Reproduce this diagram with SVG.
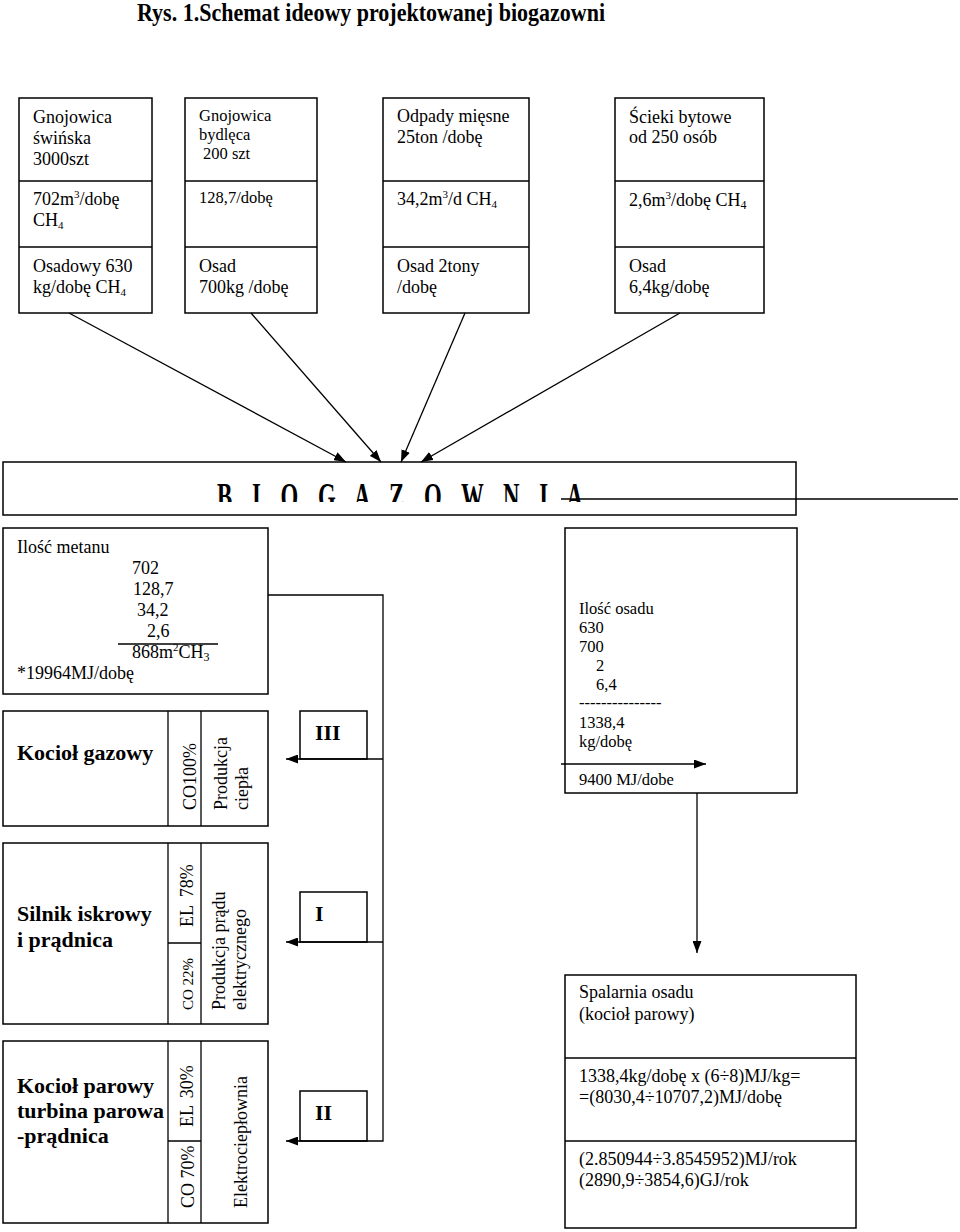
<svg xmlns="http://www.w3.org/2000/svg" width="960" height="1232" viewBox="0 0 960 1232">
<style>
svg { font-family: "Liberation Serif", "Times New Roman", serif; font-size: 18px; }
text { fill: #000; }
.s { font-size: 16.5px; }
.b { font-weight: bold; font-size: 22px; }
.box { fill: #fff; stroke: #000; stroke-width: 1.5; }
.ln { stroke: #000; stroke-width: 1.3; fill: none; }
</style>
<defs>
<marker id="ah" markerUnits="userSpaceOnUse" markerWidth="12" markerHeight="9" refX="12" refY="4.5" orient="auto">
<path d="M0,0 L12,4.5 L0,9 z" fill="#000"/>
</marker>
<clipPath id="bioclip"><rect x="0" y="470" width="800" height="32"/></clipPath>
</defs>
<rect width="960" height="1232" fill="#fff"/>

<text x="137" y="21" font-weight="bold" font-size="25" textLength="468" lengthAdjust="spacingAndGlyphs">Rys. 1.Schemat ideowy projektowanej biogazowni</text>

<g id="src1">
<rect class="box" x="19" y="98" width="133" height="215"/>
<line class="ln" x1="19" y1="181" x2="152" y2="181"/>
<line class="ln" x1="19" y1="247" x2="152" y2="247"/>
<text x="33" y="123">Gnojowica</text>
<text x="33" y="144">świńska</text>
<text x="33" y="165">3000szt</text>
<text x="33" y="205">702m<tspan font-size="11" dy="-7">3</tspan><tspan dy="7">/dobę</tspan></text>
<text x="33" y="226">CH<tspan font-size="11" dy="3">4</tspan></text>
<text x="33" y="272">Osadowy 630</text>
<text x="33" y="293">kg/dobę CH<tspan font-size="11" dy="3">4</tspan></text>
</g>

<g id="src2">
<rect class="box" x="185" y="98" width="132" height="215"/>
<line class="ln" x1="185" y1="181" x2="317" y2="181"/>
<line class="ln" x1="185" y1="247" x2="317" y2="247"/>
<text class="s" x="199" y="121">Gnojowica</text>
<text class="s" x="199" y="140">bydlęca</text>
<text class="s" x="203" y="159">200 szt</text>
<text class="s" x="199" y="203">128,7/dobę</text>
<text x="199" y="272">Osad</text>
<text x="199" y="293">700kg /dobę</text>
</g>

<g id="src3">
<rect class="box" x="383" y="98" width="146" height="215"/>
<line class="ln" x1="383" y1="181" x2="529" y2="181"/>
<line class="ln" x1="383" y1="247" x2="529" y2="247"/>
<text x="397" y="122">Odpady mięsne</text>
<text x="397" y="143">25ton /dobę</text>
<text x="397" y="205">34,2m<tspan font-size="11" dy="-7">3</tspan><tspan dy="7">/d CH</tspan><tspan font-size="11" dy="3">4</tspan></text>
<text x="397" y="272">Osad 2tony</text>
<text x="397" y="293">/dobę</text>
</g>

<g id="src4">
<rect class="box" x="615" y="98" width="149" height="215"/>
<line class="ln" x1="615" y1="181" x2="764" y2="181"/>
<line class="ln" x1="615" y1="247" x2="764" y2="247"/>
<text x="629" y="123">Ścieki bytowe</text>
<text x="629" y="143">od 250 osób</text>
<text x="629" y="206">2,6m<tspan font-size="11" dy="-7">3</tspan><tspan dy="7">/dobę CH</tspan><tspan font-size="12" dy="3">4</tspan></text>
<text x="629" y="272">Osad</text>
<text x="629" y="293">6,4kg/dobę</text>
</g>

<g id="biogazownia">
<rect class="box" x="3" y="462" width="793" height="53"/>
<g clip-path="url(#bioclip)">
<text transform="translate(217,509) scale(0.6,1)" font-weight="bold" font-size="38" textLength="610" lengthAdjust="spacing">B I O G A Z O W N I A</text>
</g>
</g>

<g id="metan">
<rect class="box" x="3" y="528" width="265" height="166"/>
<text x="17" y="553">Ilość metanu</text>
<text x="132" y="574">702</text>
<text x="133" y="595">128,7</text>
<text x="137" y="616">34,2</text>
<text x="147" y="637">2,6</text>
<line class="ln" x1="118" y1="644" x2="218" y2="644"/>
<text x="132" y="658">868m<tspan font-size="11" dy="-7">2</tspan><tspan dy="7">CH</tspan><tspan font-size="12" dy="3">3</tspan></text>
<text x="17" y="679">*19964MJ/dobę</text>
</g>

<g id="kociol-gazowy">
<rect class="box" x="3" y="711" width="265" height="115"/>
<line class="ln" x1="168" y1="711" x2="168" y2="826"/>
<line class="ln" x1="201" y1="711" x2="201" y2="826"/>
<text class="b" x="17" y="760">Kocioł gazowy</text>
<text transform="translate(196,810) rotate(-90)">CO100%</text>
<text transform="translate(227,810) rotate(-90)">Produkcja</text>
<text transform="translate(248,810) rotate(-90)">ciepła</text>
</g>

<g id="silnik">
<rect class="box" x="3" y="843" width="265" height="181"/>
<line class="ln" x1="168" y1="843" x2="168" y2="1024"/>
<line class="ln" x1="201" y1="843" x2="201" y2="1024"/>
<line class="ln" x1="168" y1="943" x2="201" y2="943"/>
<text class="b" x="17" y="921">Silnik iskrowy</text>
<text class="b" x="17" y="947">i prądnica</text>
<text transform="translate(193,927) rotate(-90)" word-spacing="4">EL 78%</text>
<text transform="translate(193,1010) rotate(-90)" font-size="15">CO 22%</text>
<text transform="translate(225,1010) rotate(-90)">Produkcja prądu</text>
<text transform="translate(246,1010) rotate(-90)">elektrycznego</text>
</g>

<g id="kociol-parowy">
<rect class="box" x="3" y="1041" width="265" height="182"/>
<line class="ln" x1="168" y1="1041" x2="168" y2="1223"/>
<line class="ln" x1="201" y1="1041" x2="201" y2="1223"/>
<line class="ln" x1="168" y1="1141" x2="201" y2="1141"/>
<text class="b" x="17" y="1093">Kocioł parowy</text>
<text class="b" x="17" y="1118">turbina parowa</text>
<text class="b" x="17" y="1143">-prądnica</text>
<text transform="translate(193,1127) rotate(-90)" word-spacing="3">EL 30%</text>
<text transform="translate(194,1208) rotate(-90)">CO 70%</text>
<text transform="translate(247,1208) rotate(-90)">Elektrociepłownia</text>
</g>

<g id="label-III">
<rect class="box" x="300" y="711" width="67" height="48"/>
<text class="b" x="315" y="740">III</text>
</g>
<g id="label-I">
<rect class="box" x="300" y="892" width="67" height="50"/>
<text class="b" x="315" y="921">I</text>
</g>
<g id="label-II">
<rect class="box" x="300" y="1091" width="67" height="50"/>
<text class="b" x="315" y="1120">II</text>
</g>

<g id="osad">
<rect class="box" x="565" y="528" width="232" height="265"/>
<text class="s" x="579" y="614">Ilość osadu</text>
<text class="s" x="579" y="633">630</text>
<text class="s" x="579" y="652">700</text>
<text class="s" x="596" y="671">2</text>
<text class="s" x="596" y="690">6,4</text>
<text class="s" x="579" y="708">---------------</text>
<text class="s" x="579" y="728">1338,4</text>
<text class="s" x="579" y="747">kg/dobę</text>
<text class="s" x="579" y="785">9400 MJ/dobe</text>
</g>

<g id="spalarnia">
<rect class="box" x="565" y="975" width="291" height="253"/>
<line class="ln" x1="565" y1="1058" x2="856" y2="1058"/>
<line class="ln" x1="565" y1="1141" x2="856" y2="1141"/>
<text x="579" y="998">Spalarnia osadu</text>
<text x="579" y="1020">(kocioł parowy)</text>
<text x="579" y="1082">1338,4kg/dobę x (6÷8)MJ/kg=</text>
<text x="579" y="1103">=(8030,4÷10707,2)MJ/dobę</text>
<text x="579" y="1165">(2.850944÷3.8545952)MJ/rok</text>
<text x="579" y="1186">(2890,9÷3854,6)GJ/rok</text>
</g>

<g id="connectors">
<line class="ln" x1="69" y1="313" x2="346" y2="462" marker-end="url(#ah)"/>
<line class="ln" x1="251" y1="313" x2="381" y2="462" marker-end="url(#ah)"/>
<line class="ln" x1="465" y1="313" x2="401" y2="462" marker-end="url(#ah)"/>
<line class="ln" x1="680" y1="313" x2="421" y2="462" marker-end="url(#ah)"/>
<line class="ln" x1="561" y1="499" x2="958" y2="499"/>
<path class="ln" d="M268,595 H383 V1141 H286" marker-end="url(#ah)"/>
<path class="ln" d="M383,759 H286" marker-end="url(#ah)"/>
<path class="ln" d="M383,942 H286" marker-end="url(#ah)"/>
<path class="ln" d="M561,764 H706" marker-end="url(#ah)"/>
<path class="ln" d="M697,793 V953" marker-end="url(#ah)"/>
</g>
</svg>
